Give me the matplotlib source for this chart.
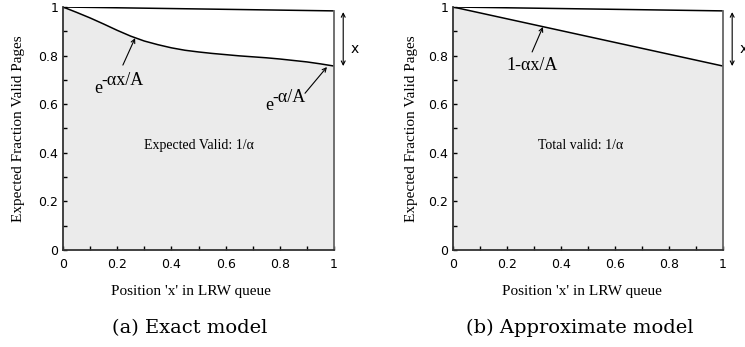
import matplotlib
matplotlib.use("Agg")
import matplotlib.pyplot as plt
from matplotlib.ticker import MultipleLocator, FixedLocator

# ---- data ----
exact_x = [0.0, 0.05, 0.1, 0.15, 0.2, 0.25, 0.3, 0.35, 0.4, 0.45, 0.5, 0.55, 0.6,
           0.65, 0.7, 0.75, 0.8, 0.85, 0.9, 0.95, 1.0]
exact_y = [1.0, 0.978, 0.955, 0.930, 0.904, 0.880, 0.860, 0.845, 0.832, 0.822, 0.815,
           0.809, 0.804, 0.799, 0.795, 0.791, 0.786, 0.780, 0.774, 0.766, 0.757]
approx_x = [0.0, 1.0]
approx_y = [1.0, 0.757]
top_x = [0.0, 1.0]
top_y = [1.0, 0.984]
xticks_major = [0, 0.2, 0.4, 0.6, 0.8, 1]
xtick_labels = ["0", "0.2", "0.4", "0.6", "0.8", "1"]
yticks_major = [0, 0.2, 0.4, 0.6, 0.8, 1]
ytick_labels = ["0", "0.2", "0.4", "0.6", "0.8", "1"]

W, H = 745, 347
fig = plt.figure(figsize=(W / 100, H / 100), dpi=100)

SERIF = "Liberation Serif"
TITLE_FONT = "DejaVu Serif"
FILL = "#ebebeb"


def style_axes(ax, xlabel, ylabel, title, xlab_center_px, title_center_px, ylab_right_axes):
    ax.set_xlim(0, 1)
    ax.set_ylim(0, 1)
    for s in ("top", "right"):
        ax.spines[s].set_visible(False)
    for s in ("left", "bottom"):
        ax.spines[s].set_color("#333333")
        ax.spines[s].set_linewidth(1.3)
    ax.xaxis.set_major_locator(FixedLocator(xticks_major))
    ax.set_xticklabels(xtick_labels)
    ax.yaxis.set_major_locator(FixedLocator(yticks_major))
    ax.set_yticklabels(ytick_labels)
    ax.xaxis.set_minor_locator(MultipleLocator(0.1))
    ax.yaxis.set_minor_locator(MultipleLocator(0.1))
    ax.tick_params(axis="both", which="both", direction="in", length=3, width=1, color="black",
                   labelsize=9, labelcolor="black")
    ax.tick_params(axis="x", which="both", pad=6)
    ax.tick_params(axis="y", which="both", pad=3.5)
    ax.tick_params(axis="both", which="both", top=False, right=False)
    ax.set_ylabel(ylabel, fontfamily=SERIF, fontsize=11)
    ax.yaxis.set_label_coords(ylab_right_axes, 0.5)
    fig.text(xlab_center_px / W, 1 - 292 / H, xlabel, fontfamily=SERIF, fontsize=11,
             ha="center", va="center")
    fig.text(title_center_px / W, 1 - 328 / H, title, fontfamily=TITLE_FONT, fontsize=14,
             ha="center", va="center")


def add_x_marker(ax):
    ax.annotate("", xy=(1.034, 0.757), xytext=(1.034, 0.979),
                arrowprops=dict(arrowstyle="<->", color="black", lw=0.8,
                                shrinkA=0, shrinkB=0, mutation_scale=7),
                annotation_clip=False)
    ax.text(1.077, 0.827, "x", fontsize=10, family="DejaVu Sans", ha="center", va="center",
            clip_on=False)


def draw_frame(ax, bottom_x, bottom_y):
    ax.fill_between(bottom_x, bottom_y, 0, color=FILL, lw=0, zorder=0)
    ax.plot(bottom_x, bottom_y, color="black", lw=1.1, zorder=2, solid_joinstyle="round")
    ax.plot(top_x, top_y, color="black", lw=1.1, zorder=2)
    ax.plot([top_x[-1], top_x[-1]], [top_y[-1], 0], color="#666666", lw=1.3, zorder=2,
            clip_on=False)


arrow_kw = dict(arrowstyle="->", color="black", lw=0.8, shrinkA=0, shrinkB=0, mutation_scale=7)

# ---- (a) Exact model ----
ax1 = fig.add_axes([63 / W, 97 / H, 271 / W, 243 / H])
draw_frame(ax1, exact_x, exact_y)
style_axes(ax1, "Position 'x' in LRW queue", "Expected Fraction Valid Pages",
           "(a) Exact model", 191, 190, (25 - 63) / 271)
add_x_marker(ax1)
ax1.annotate("", xy=(0.266, 0.872), xytext=(0.221, 0.761), arrowprops=arrow_kw)
ax1.text(0.115, 0.646, "e", fontfamily=SERIF, fontsize=13, ha="left", va="baseline")
ax1.text(0.140, 0.679, "-\u03b1x/A", fontfamily=SERIF, fontsize=13, ha="left", va="baseline")
ax1.annotate("", xy=(0.974, 0.753), xytext=(0.893, 0.645), arrowprops=arrow_kw)
ax1.text(0.748, 0.576, "e", fontfamily=SERIF, fontsize=13, ha="left", va="baseline")
ax1.text(0.773, 0.609, "-\u03b1/A", fontfamily=SERIF, fontsize=13, ha="left", va="baseline")
ax1.text(0.50, 0.43, "Expected Valid: 1/\u03b1", fontfamily=SERIF, fontsize=10,
         ha="center", va="center")

# ---- (b) Approximate model ----
ax2 = fig.add_axes([453 / W, 97 / H, 270 / W, 243 / H])
draw_frame(ax2, approx_x, approx_y)
style_axes(ax2, "Position 'x' in LRW queue", "Expected Fraction Valid Pages",
           "(b) Approximate model", 582, 580, (418 - 453) / 270)
add_x_marker(ax2)
ax2.annotate("", xy=(0.333, 0.918), xytext=(0.293, 0.815), arrowprops=arrow_kw)
ax2.text(0.293, 0.76, "1-\u03b1x/A", fontfamily=SERIF, fontsize=13, ha="center", va="center")
ax2.text(0.474, 0.432, "Total valid: 1/\u03b1", fontfamily=SERIF, fontsize=10,
         ha="center", va="center")

fig.savefig("out.png", dpi=100)
